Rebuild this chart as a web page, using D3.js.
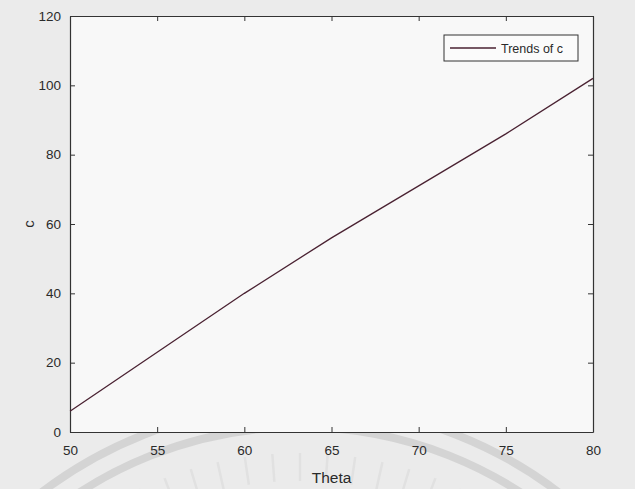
<!DOCTYPE html>
<html>
<head>
<meta charset="utf-8">
<script src="https://cdn.jsdelivr.net/npm/d3@7"></script>
<style>
  html, body { margin: 0; padding: 0; background: #ebebeb; }
  svg { display: block; }
  text { font-family: "Liberation Sans", Arial, sans-serif; fill: #2a2a2a; }
</style>
</head>
<body>
<svg id="chart" width="635" height="489"></svg>
<script>
// Trend of c against Theta
const theta = [50, 55, 60, 65, 70, 75, 80];
const cValues = [6, 23, 40, 56, 71, 86, 102];
const xTicks = [50, 55, 60, 65, 70, 75, 80];
const yTicks = [0, 20, 40, 60, 80, 100, 120];
const seriesName = "Trends of c";

const W = 635, H = 489;
const margin = { left: 70, right: 42, top: 16, bottom: 57 };
const svg = d3.select("#chart");

// page background with faint printed arcs
svg.append("rect").attr("width", W).attr("height", H).attr("fill", "#ebebeb");
const deco = svg.append("g").attr("transform", "translate(300,831)");
[426, 404].forEach(r => {
  deco.append("circle").attr("r", r).attr("fill", "none")
    .attr("stroke", "#d4d4d4").attr("stroke-width", 8);
});
d3.range(-16, 17).forEach(i => {
  const a = (i * 4.2 - 90) * Math.PI / 180;
  deco.append("line")
    .attr("x1", 350 * Math.cos(a)).attr("y1", 350 * Math.sin(a))
    .attr("x2", 378 * Math.cos(a)).attr("y2", 378 * Math.sin(a))
    .attr("stroke", "#e1e1e1").attr("stroke-width", 2.5);
});

const x = d3.scaleLinear().domain([50, 80]).range([margin.left, W - margin.right]);
const y = d3.scaleLinear().domain([0, 120]).range([H - margin.bottom, margin.top]);

// plot area
svg.append("rect")
  .attr("x", x(50)).attr("y", y(120))
  .attr("width", x(80) - x(50)).attr("height", y(0) - y(120))
  .attr("fill", "#f8f8f8");

const axisStyle = g => {
  g.selectAll("path.domain").attr("stroke", "#333").attr("stroke-width", 1.2);
  g.selectAll(".tick line").attr("stroke", "#333");
  g.selectAll("text").attr("font-size", 13.5).attr("fill", "#2a2a2a")
    .attr("font-family", "Liberation Sans, Arial, sans-serif");
};

svg.append("g").attr("transform", `translate(0,${y(0)})`)
  .call(d3.axisBottom(x).tickValues(xTicks).tickSize(-5).tickPadding(13).tickSizeOuter(0))
  .call(axisStyle);
svg.append("g").attr("transform", `translate(0,${y(120)})`)
  .call(d3.axisTop(x).tickValues(xTicks).tickSize(-5).tickFormat("").tickSizeOuter(0))
  .call(axisStyle);
svg.append("g").attr("transform", `translate(${x(50)},0)`)
  .call(d3.axisLeft(y).tickValues(yTicks).tickSize(-5).tickPadding(9).tickSizeOuter(0))
  .call(axisStyle);
svg.append("g").attr("transform", `translate(${x(80)},0)`)
  .call(d3.axisRight(y).tickValues(yTicks).tickSize(-5).tickFormat("").tickSizeOuter(0))
  .call(axisStyle);

// series line
const line = d3.line().x((d, i) => x(theta[i])).y(d => y(d));
svg.append("path").datum(cValues)
  .attr("d", line)
  .attr("fill", "none")
  .attr("stroke", "#4a2232")
  .attr("stroke-width", 1.3);

// axis titles
svg.append("text")
  .attr("x", (x(50) + x(80)) / 2).attr("y", 483)
  .attr("text-anchor", "middle").attr("font-size", 15.5)
  .text("Theta");
svg.append("text")
  .attr("transform", `translate(34,${(y(0) + y(120)) / 2}) rotate(-90)`)
  .attr("text-anchor", "middle").attr("font-size", 15)
  .text("c");

// legend
const lg = svg.append("g").attr("transform", "translate(444,35)");
lg.append("rect").attr("width", 134).attr("height", 26)
  .attr("fill", "#fbfbfb").attr("stroke", "#333").attr("stroke-width", 1);
lg.append("line").attr("x1", 6).attr("x2", 52).attr("y1", 13).attr("y2", 13)
  .attr("stroke", "#4a2232").attr("stroke-width", 1.3);
lg.append("text").attr("x", 57).attr("y", 17.5).attr("font-size", 12.5)
  .text(seriesName);
</script>
</body>
</html>
